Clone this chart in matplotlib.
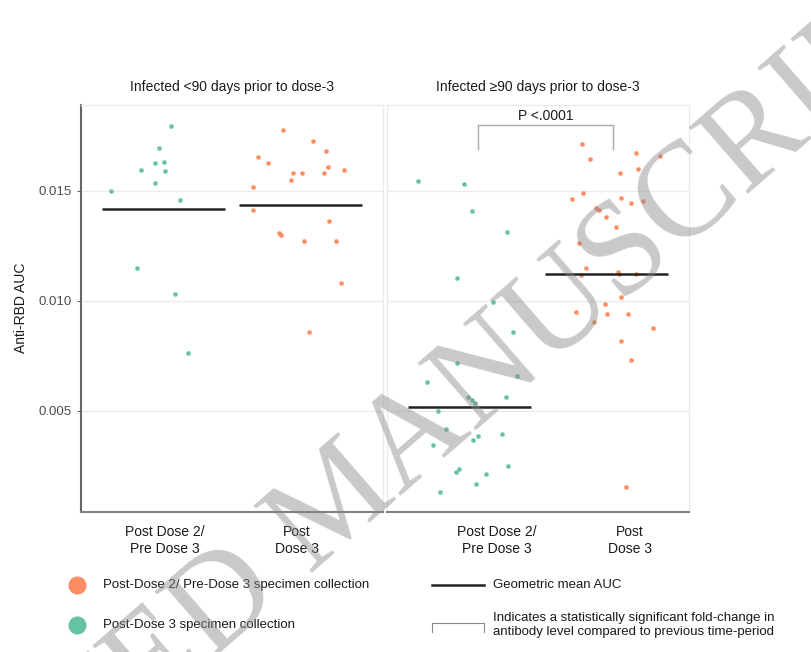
import matplotlib
matplotlib.use("Agg")
import matplotlib.pyplot as plt
import numpy as np

plt.rcParams["font.family"] = ["Liberation Sans", "DejaVu Sans"]

# ---- data ----
panel_titles = ["Infected <90 days prior to dose-3", "Infected \u226590 days prior to dose-3"]
tick_labels = ["Post Dose 2/\nPre Dose 3", "Post\nDose 3"]

# panel 1, post dose 2 / pre dose 3 (green)
p1_pre_auc = [0.01792, 0.01692, 0.01595, 0.01626, 0.01629, 0.01591, 0.01535, 0.01499,
              0.01458, 0.01150, 0.01029, 0.00760]
p1_pre_jit = [0.055, -0.032, -0.163, -0.061, 0.004, 0.012, -0.061, -0.382,
              0.121, -0.192, 0.085, 0.179]
# panel 1, post dose 3 (orange)
p1_post_auc = [0.01777, 0.01726, 0.01682, 0.01652, 0.01627, 0.01606, 0.01595, 0.01582,
               0.01579, 0.01579, 0.01550, 0.01515, 0.01411, 0.01362, 0.01309, 0.01297,
               0.01270, 0.01270, 0.01079, 0.00856]
p1_post_jit = [-0.126, 0.093, 0.183, -0.310, -0.238, 0.200, 0.319, -0.055,
               0.010, 0.168, -0.068, -0.345, -0.345, 0.209, -0.160, -0.143,
               0.023, 0.258, 0.294, 0.063]
# panel 2, post dose 2 / pre dose 3 (green)
p2_pre_auc = [0.01545, 0.01528, 0.01407, 0.01313, 0.01102, 0.00992, 0.00855, 0.00716,
              0.00655, 0.00628, 0.00560, 0.00548, 0.00535, 0.00563, 0.00498, 0.00415,
              0.00366, 0.00385, 0.00393, 0.00344, 0.00222, 0.00235, 0.00247, 0.00210,
              0.00165, 0.00128]
p2_pre_jit = [-0.375, -0.038, 0.021, 0.274, -0.088, 0.175, 0.320, -0.090,
              0.346, -0.307, -0.010, 0.019, 0.039, 0.267, -0.228, -0.168,
              0.026, 0.063, 0.238, -0.265, -0.096, -0.076, 0.281, 0.123,
              0.050, -0.216]
# panel 2, post dose 3 (orange)
p2_post_auc = [0.01710, 0.01643, 0.01670, 0.01655, 0.01598, 0.01580, 0.01487, 0.01461,
               0.01467, 0.01445, 0.01452, 0.01419, 0.01411, 0.01378, 0.01335, 0.01261,
               0.01148, 0.01117, 0.01131, 0.01120, 0.01120, 0.01016, 0.00983, 0.00948,
               0.00939, 0.00939, 0.00904, 0.00874, 0.00816, 0.00731, 0.00152]
p2_post_jit = [-0.177, -0.121, 0.214, 0.387, 0.231, 0.095, -0.170, -0.250,
               0.105, 0.176, 0.263, -0.077, -0.058, -0.004, 0.071, -0.203,
               -0.148, -0.187, 0.083, 0.090, 0.212, 0.103, -0.009, -0.223,
               0.005, 0.158, -0.092, 0.340, 0.105, 0.178, 0.142]

# geometric mean AUC per group (panel 1, panel 2)
geo_mean_pre = [0.01418, 0.00516]
geo_mean_post = [0.01436, 0.01120]

p_value_text = "P <.0001"

GREEN = "#66c2a5"
ORANGE = "#fc8d62"

fig = plt.figure(figsize=(8.12, 6.52), dpi=100)

W, H = 812, 652
ax1 = fig.add_axes([81 / W, 1 - 511.5 / H, 302 / W, 406.5 / H])
ax2 = fig.add_axes([387 / W, 1 - 511.5 / H, 302 / W, 406.5 / H], sharey=ax1)

groups = [
    (ax1, p1_pre_auc, p1_pre_jit, p1_post_auc, p1_post_jit),
    (ax2, p2_pre_auc, p2_pre_jit, p2_post_auc, p2_post_jit),
]

for i, (ax, pre, pre_j, post, post_j) in enumerate(groups):
    ax.scatter(1 + np.array(pre_j), pre, s=11, color=GREEN, linewidths=0, zorder=3)
    ax.scatter(2 + np.array(post_j), post, s=11, color=ORANGE, linewidths=0, zorder=3)

    ax.hlines(geo_mean_pre[i], 0.55, 1.45, color="#222222", lw=1.8, zorder=4)
    ax.hlines(geo_mean_post[i], 1.55, 2.45, color="#222222", lw=1.8, zorder=4)

    ax.set_xlim(0.4, 2.6)
    ax.set_ylim(0.00041, 0.01889)
    ax.set_yticks([0.005, 0.010, 0.015])
    ax.grid(axis="y", color="#ebebeb", lw=1)
    ax.set_axisbelow(True)

    ax.set_title(panel_titles[i], fontsize=10, color="#1a1a1a", pad=10)

    for side in ["top", "right", "left"]:
        ax.spines[side].set_color("#ebebeb")
        ax.spines[side].set_linewidth(1)
    ax.spines["bottom"].set_color("#808080")
    ax.spines["bottom"].set_linewidth(1.5)

    ax.tick_params(axis="x", length=0, pad=10, labelsize=10, labelcolor="#1a1a1a")

# tick labels as they sit in the reference
ax1.set_xticks([1.01, 1.97])
ax1.set_xticklabels(tick_labels)
ax2.set_xticks([1.20, 2.17])
ax2.set_xticklabels(tick_labels)

ax1.spines["left"].set_color("#666666")
ax1.spines["left"].set_linewidth(1.5)
ax1.tick_params(axis="y", length=3, color="#666666", labelsize=9.5, labelcolor="#4d4d4d")
ax1.yaxis.set_major_formatter(matplotlib.ticker.FormatStrFormatter("%.3f"))
ax1.set_ylabel("Anti-RBD AUC", fontsize=10, color="#1a1a1a", labelpad=8)
ax2.tick_params(axis="y", left=False, labelleft=False)

# significance bracket
ax2.plot([1.06, 1.06, 2.05, 2.05], [0.01689, 0.01798, 0.01798, 0.01689],
         color="#aaaaaa", lw=1, zorder=2)
ax2.text(1.555, 0.01806, p_value_text, ha="center", va="bottom", fontsize=10, color="#1a1a1a")

# legend area, in pixel coordinates
lg = fig.add_axes([0, 0, 1, 1], zorder=5)
lg.set_xlim(0, W)
lg.set_ylim(H, 0)
lg.axis("off")

lg.plot([77], [585], "o", ms=13, color=ORANGE, mec="none")
lg.text(103, 585, "Post-Dose 2/ Pre-Dose 3 specimen collection", va="center", fontsize=9.5,
        color="#1a1a1a")
lg.plot([77], [625], "o", ms=13, color=GREEN, mec="none")
lg.text(103, 625, "Post-Dose 3 specimen collection", va="center", fontsize=9.5, color="#1a1a1a")

lg.plot([432, 484], [585, 585], color="#222222", lw=1.8)
lg.text(493, 585, "Geometric mean AUC", va="center", fontsize=9.5, color="#1a1a1a")
lg.plot([432, 432, 484, 484], [632, 623, 623, 632], color="#888888", lw=0.8)
lg.text(493, 625, "Indicates a statistically significant fold-change in\n"
        "antibody level compared to previous time-period",
        va="center", fontsize=9.5, color="#1a1a1a", linespacing=1.3)

# watermark
lg.text(340, 505, "ACCEPTED MANUSCRIPT", family=["Liberation Serif", "DejaVu Serif"],
        fontsize=97, color="#888888", alpha=0.45, rotation=41,
        ha="center", va="center", rotation_mode="anchor", zorder=10, clip_on=True)

fig.savefig("out.png", dpi=100)
